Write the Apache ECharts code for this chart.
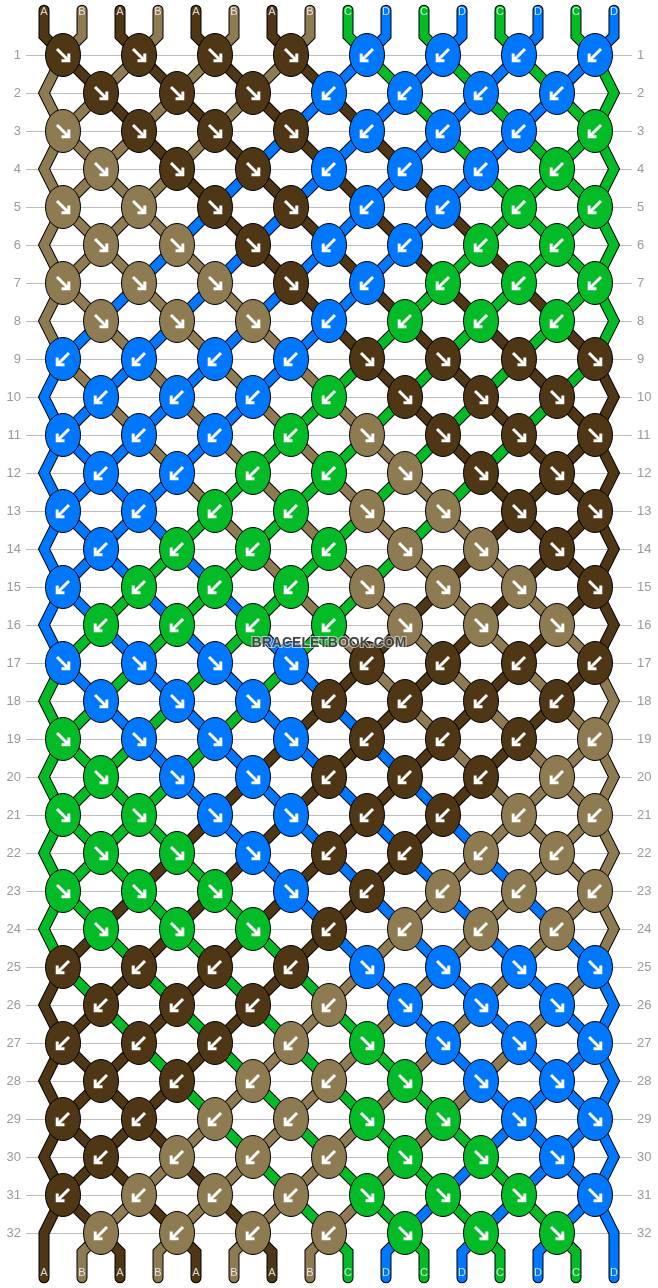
<!DOCTYPE html>
<html>
<head>
<meta charset="utf-8">
<title>Bracelet pattern</title>
<style>
html, body { margin: 0; padding: 0; background: #fff; }
#pattern { width: 658px; height: 1288px; }
</style>
<script src="https://cdn.jsdelivr.net/npm/echarts@6/dist/echarts.min.js"></script>
</head>
<body>
<div id="pattern"></div>
<script>
/* strands, left to right, at the top of the pattern */
var strandLetters = ['A', 'B', 'A', 'B', 'A', 'B', 'A', 'B', 'C', 'D', 'C', 'D', 'C', 'D', 'C', 'D'];

var strandColors = {
    A: '#4F3615',
    B: '#8F7B52',
    C: '#03BB26',
    D: '#0077FF'
};

/* knot colour per row, odd rows have 8 knots, even rows 7 */
var knotRows = [
    'AAAADDDD', 'AAADDDD', 'BAAADDDC', 'BAADDDC',
    'BBAADDCC', 'BBADDCC', 'BBBADCCC', 'BBBDCCC',
    'DDDDAAAA', 'DDDCAAA', 'DDDCBAAA', 'DDCCBAA',
    'DDCCBBAA', 'DCCCBBA', 'DCCCBBBA', 'CCCCBBB',
    'DDDDAAAA', 'DDDAAAA', 'CDDDAAAB', 'CDDAAAB',
    'CCDDAABB', 'CCDAABB', 'CCCDABBB', 'CCCABBB',
    'AAAADDDD', 'AAABDDD', 'AAABCDDD', 'AABBCDD',
    'AABBCCDD', 'ABBBCCD', 'ABBBCCCD', 'BBBBCCC'
];

/* arrow direction per knot: R = down right, L = down left */
var arrowRows = [
    'RRRRLLLL', 'RRRLLLL', 'RRRRLLLL', 'RRRLLLL',
    'RRRRLLLL', 'RRRLLLL', 'RRRRLLLL', 'RRRLLLL',
    'LLLLRRRR', 'LLLLRRR', 'LLLLRRRR', 'LLLLRRR',
    'LLLLRRRR', 'LLLLRRR', 'LLLLRRRR', 'LLLLRRR',
    'RRRRLLLL', 'RRRLLLL', 'RRRRLLLL', 'RRRLLLL',
    'RRRRLLLL', 'RRRLLLL', 'RRRRLLLL', 'RRRLLLL',
    'LLLLRRRR', 'LLLLRRR', 'LLLLRRRR', 'LLLLRRR',
    'LLLLRRRR', 'LLLLRRR', 'LLLLRRRR', 'LLLLRRR'
];

var watermark = 'BRACELETBOOK.COM';

var rowCount = knotRows.length;
var capTop = -0.18;
var capBottom = rowCount + 1.18;

/* walk the strands through the knots, every knot swaps its two strands */
var strandPaths = [];
var order = [];
strandLetters.forEach(function (letter, i) {
    strandPaths.push([[i + 1, capTop], [i + 1, 0.5]]);
    order.push(i);
});

var knotData = [];
knotRows.forEach(function (row, r) {
    var rowNo = r + 1;
    var first = r % 2 === 0 ? 0 : 1;
    if (first === 1) {
        strandPaths[order[0]].push([1, rowNo]);
        strandPaths[order[15]].push([16, rowNo]);
    }
    for (var k = 0; k < row.length; k++) {
        var a = first + k * 2;
        var x = a + 1.5;
        strandPaths[order[a]].push([x, rowNo]);
        strandPaths[order[a + 1]].push([x, rowNo]);
        var tmp = order[a];
        order[a] = order[a + 1];
        order[a + 1] = tmp;
        knotData.push([x, rowNo, row.charAt(k), arrowRows[r].charAt(k)]);
    }
});

/* leave the last knot row and run down to the end caps */
order.forEach(function (strand, i) {
    var path = strandPaths[strand];
    if (i > 0 && i < 15) {
        path.push([i + 1, rowCount + 0.5]);
    }
    path.push([i + 1, capBottom]);
});

var topLetters = strandLetters.map(function (letter, i) {
    return [i + 1, -0.12, letter];
});
var bottomLetters = order.map(function (strand, i) {
    return [i + 1, rowCount + 1.06, strandLetters[strand]];
});

function renderKnot(params, api) {
    var c = api.coord([api.value(0), api.value(1)]);
    var letter = knotData[params.dataIndex][2];
    var dir = knotData[params.dataIndex][3] === 'R' ? 1 : -1;
    var arrowStyle = { fill: null, stroke: '#fff', lineWidth: 3, lineJoin: 'miter', lineCap: 'butt' };
    return {
        type: 'group',
        children: [{
            type: 'ellipse',
            shape: { cx: c[0], cy: c[1], rx: 17.5, ry: 21.5 },
            style: { fill: strandColors[letter], stroke: '#000', lineWidth: 1 }
        }, {
            type: 'polyline',
            shape: { points: [[c[0] - dir * 6, c[1] - 6], [c[0] + dir * 5.5, c[1] + 5.5]] },
            style: arrowStyle
        }, {
            type: 'polyline',
            shape: { points: [[c[0] + dir * 5.8, c[1] - 1.5], [c[0] + dir * 5.8, c[1] + 5.8], [c[0] - dir * 1.5, c[1] + 5.8]] },
            style: arrowStyle
        }]
    };
}

var series = [];

// 黑边先画，彩色压在上面
strandPaths.forEach(function (path) {
    series.push({
        type: 'line',
        data: path,
        clip: false,
        silent: true,
        symbol: 'none',
        z: 2,
        lineStyle: { width: 11, color: '#000', cap: 'round', join: 'miter' }
    });
});
strandPaths.forEach(function (path, i) {
    series.push({
        type: 'line',
        data: path,
        clip: false,
        silent: true,
        symbol: 'none',
        z: 3,
        lineStyle: { width: 9, color: strandColors[strandLetters[i]], cap: 'round', join: 'miter' }
    });
});

series.push({
    type: 'custom',
    data: knotData,
    encode: { x: 0, y: 1 },
    renderItem: renderKnot,
    silent: true,
    z: 4
});

series.push({
    type: 'scatter',
    data: topLetters.concat(bottomLetters),
    clip: false,
    silent: true,
    symbolSize: 0,
    z: 5,
    label: {
        show: true,
        position: 'inside',
        color: '#fff',
        fontSize: 11,
        fontFamily: 'Liberation Sans',
        formatter: function (p) {
            return p.value[2];
        }
    }
});

var rowAxis = {
    type: 'value',
    inverse: true,
    min: 1,
    max: rowCount,
    interval: 1,
    axisLine: { show: false },
    axisTick: { show: false },
    axisLabel: {
        color: '#999',
        fontSize: 13,
        fontFamily: 'Liberation Sans',
        margin: 5
    }
};

var myChart = echarts.init(document.getElementById('pattern'));
myChart.setOption({
    animation: false,
    backgroundColor: '#fff',
    title: {
        text: watermark,
        left: 'center',
        top: 636,
        textStyle: {
            color: '#444',
            fontSize: 14,
            fontWeight: 'bold',
            fontFamily: 'Liberation Sans',
            textBorderColor: 'rgba(255,255,255,0.6)',
            textBorderWidth: 2
        },
        padding: 0,
        z: 10
    },
    tooltip: { show: false },
    grid: { left: 26, right: 26, top: 55, bottom: 55 },
    xAxis: { type: 'value', show: false, min: 0.526, max: 16.474 },
    yAxis: [
        Object.assign({}, rowAxis, {
            position: 'left',
            splitLine: { show: true, lineStyle: { color: '#bbb', width: 1 } }
        }),
        Object.assign({}, rowAxis, {
            position: 'right',
            splitLine: { show: false }
        })
    ],
    series: series
});
</script>
</body>
</html>
